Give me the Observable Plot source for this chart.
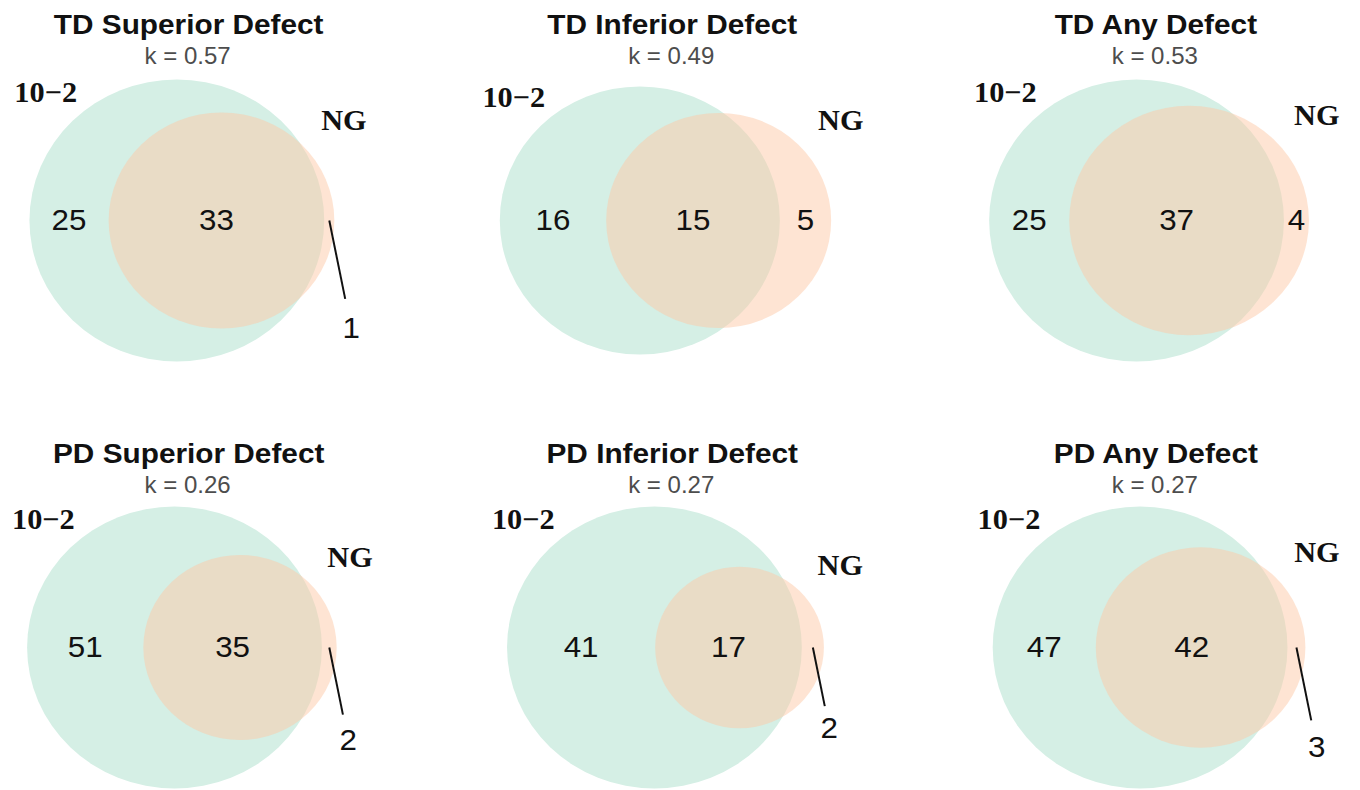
<!DOCTYPE html>
<html>
<head>
<meta charset="utf-8">
<script src="https://cdn.jsdelivr.net/npm/d3@7"></script>
<script src="https://cdn.jsdelivr.net/npm/@observablehq/plot@0.6"></script>
<style>
  html, body { margin: 0; padding: 0; background: #fff; }
  #chart svg { display: block; }
</style>
</head>
<body>
<div id="chart"></div>
<script>
// ---- data ----
const panelTitles = ["TD Superior Defect", "TD Inferior Defect", "TD Any Defect",
                     "PD Superior Defect", "PD Inferior Defect", "PD Any Defect"];
const kappa = [0.57, 0.49, 0.53, 0.26, 0.27, 0.27];
const only102 = [25, 16, 25, 51, 41, 47];   // 10-2 only
const both = [33, 15, 37, 35, 17, 42];      // overlap
const onlyNG = [1, 5, 4, 2, 2, 3];          // NG only
const setNames = ["10\u22122", "NG"];

// ---- layout helpers ----
const W = 1301, H = 790;
const colX = i => 180 + 462.6 * i;
const rowTitleY = [33, 462], rowKY = [63, 492], rowCY = [220, 647];
const deg = Math.PI / 180;

function overlapArea(r1, r2, d) {
  if (d >= r1 + r2) return 0;
  if (d <= Math.abs(r1 - r2)) return Math.PI * Math.min(r1, r2) ** 2;
  const a = r1 * r1 * Math.acos((d * d + r1 * r1 - r2 * r2) / (2 * d * r1));
  const b = r2 * r2 * Math.acos((d * d + r2 * r2 - r1 * r1) / (2 * d * r2));
  const c = 0.5 * Math.sqrt((-d + r1 + r2) * (d + r1 - r2) * (d - r1 + r2) * (d + r1 + r2));
  return a + b - c;
}
function solveDistance(r1, r2, target) {
  let lo = Math.abs(r1 - r2), hi = r1 + r2;
  for (let k = 0; k < 80; k++) {
    const mid = (lo + hi) / 2;
    if (overlapArea(r1, r2, mid) > target) lo = mid; else hi = mid;
  }
  return (lo + hi) / 2;
}

const circles = [], titles = [], subs = [], setLabels = [], counts = [], leaders = [];
panelTitles.forEach((t, i) => {
  const col = i % 3, row = Math.floor(i / 3);
  const g = only102[i] + both[i], o = onlyNG[i] + both[i];
  const rg = Math.sqrt(g / Math.PI), ro = Math.sqrt(o / Math.PI);
  const d = solveDistance(rg, ro, both[i]);
  const w = rg + d + ro;
  const s = Math.min(141 / rg, 317 / w);
  const cx0 = colX(col) - 6.5;
  const cy = rowCY[row];
  const gx = cx0 - w * s / 2 + rg * s, ox = gx + d * s;
  const Rg = rg * s, Ro = ro * s;
  circles.push({x: gx, y: cy, r: Rg, set: "10-2"});
  circles.push({x: ox, y: cy, r: Ro, set: "NG"});
  titles.push({x: colX(col), y: rowTitleY[row], text: t});
  subs.push({x: colX(col) - 1, y: rowKY[row], text: `k = ${kappa[i].toFixed(2)}`});
  // set labels
  const a1 = -44.5 * deg, dist1 = Rg + 38;
  setLabels.push({x: gx + Math.sin(a1) * dist1, y: cy - Math.cos(a1) * dist1, text: setNames[0]});
  const a2 = 49.5 * deg, dist2 = Ro + 46;
  setLabels.push({x: ox + Math.sin(a2) * dist2, y: cy - Math.cos(a2) * dist2, text: setNames[1]});
  // region counts
  const gL = gx - Rg, gR = gx + Rg, oL = ox - Ro, oR = ox + Ro;
  counts.push({x: (gL + oL) / 2, y: cy, text: String(only102[i])});
  counts.push({x: (oL + gR) / 2, y: cy, text: String(both[i])});
  const total = only102[i] + both[i] + onlyNG[i];
  const sx = (gR + oR) / 2;
  if (onlyNG[i] / total < 0.05) {
    const a = 11 * deg;
    const ex = sx + Math.sin(a) * 0.74 * Ro, ey = cy + Math.cos(a) * 0.74 * Ro;
    leaders.push({x1: sx, y1: cy, x2: ex, y2: ey});
    counts.push({x: sx + Math.sin(a) * 1.02 * Ro, y: cy + Math.cos(a) * 1.02 * Ro, text: String(onlyNG[i])});
  } else {
    counts.push({x: sx, y: cy, text: String(onlyNG[i])});
  }
});

const sans = "'Liberation Sans', Arial, Helvetica, sans-serif";
const serif = "'Liberation Serif', 'Times New Roman', serif";

const chart = Plot.plot({
  width: W, height: H, margin: 0,
  x: {domain: [0, W], range: [0, W], axis: null},
  y: {domain: [0, H], range: [0, H], axis: null},
  r: {type: "identity"},
  style: {background: "white"},
  marks: [
    Plot.dot(circles.filter(c => c.set === "10-2"), {x: "x", y: "y", r: "r", fill: "rgb(213,239,229)", stroke: null}),
    Plot.dot(circles.filter(c => c.set === "NG"), {x: "x", y: "y", r: "r", fill: "rgb(253,201,167)", fillOpacity: 0.5, stroke: null}),
    Plot.link(leaders, {x1: "x1", y1: "y1", x2: "x2", y2: "y2", stroke: "#111", strokeWidth: 1.9}),
    Plot.text(titles, {x: "x", y: "y", text: "text", fontSize: 28.5, fontWeight: "bold", fontFamily: sans, fill: "#111", lineAnchor: "bottom"}),
    Plot.text(subs, {x: "x", y: "y", text: "text", fontSize: 23, fontFamily: sans, fill: "#4d4d4d", lineAnchor: "bottom"}),
    Plot.text(setLabels, {x: "x", y: "y", text: "text", fontSize: 29, fontWeight: "bold", fontFamily: serif, fill: "#111"}),
    Plot.text(counts, {x: "x", y: "y", text: "text", fontSize: 30, fontFamily: sans, fill: "#111"})
  ]
});
chart.setAttribute("preserveAspectRatio", "none");
chart.setAttribute("width", 1360);
chart.setAttribute("height", H);
chart.style.width = "1360px";
chart.style.height = H + "px";
chart.style.maxWidth = "none";
document.getElementById("chart").appendChild(chart);
</script>
</body>
</html>
